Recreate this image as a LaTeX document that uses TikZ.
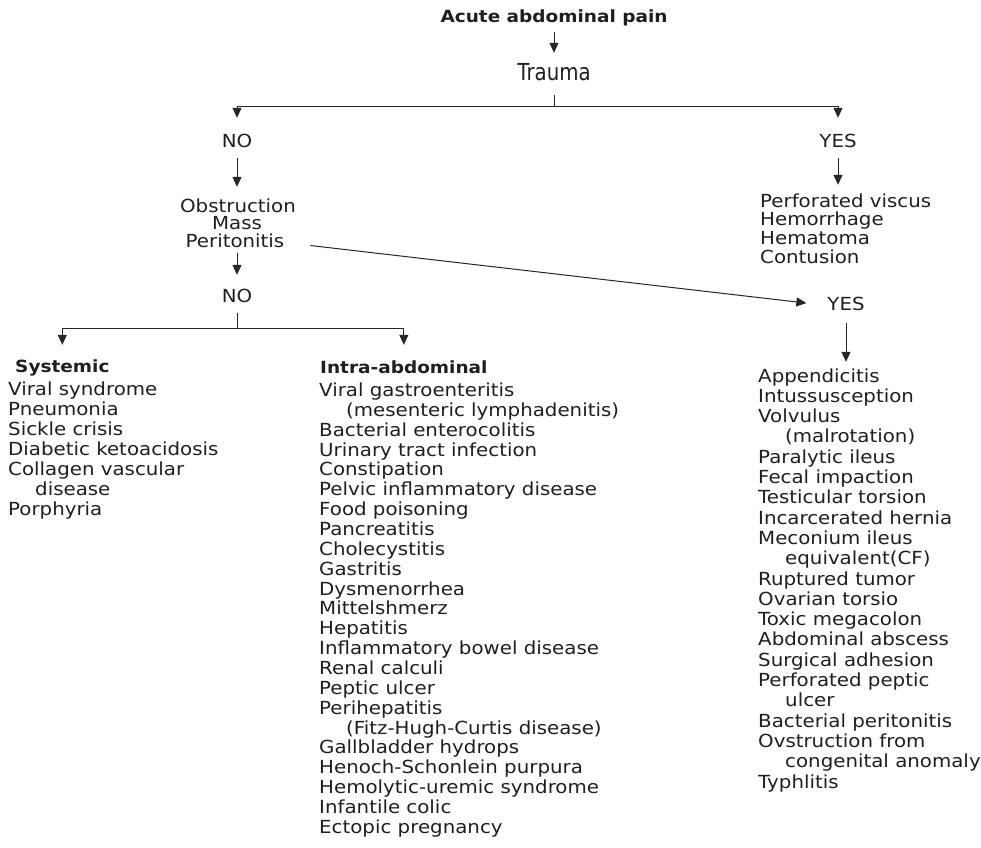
\documentclass[tikz,border=0pt]{standalone}
\usepackage{fontspec}
\setmainfont{DejaVu Sans}[FakeStretch=1.1]
\usetikzlibrary{arrows.meta}
\newcommand{\myind}{\hspace*{27pt}}
\tikzset{
  txt/.style={inner sep=0pt, text height=13pt, text depth=4pt, text=black!88, font=\fontsize{18}{20}\selectfont},
  hdr/.style={txt, font=\fontsize{16.8}{20}\selectfont\bfseries},
  item/.style={txt, anchor=base west},
  ctr/.style={txt, anchor=base},
  conn/.style={line width=1pt, draw=black!85},
  arr/.style={conn, -{Triangle[width=9pt,length=10pt]}}
}
\begin{document}
\begin{tikzpicture}[x=1pt,y=-1pt]
\useasboundingbox[fill=white] (0,0) rectangle (981,847);
% top
\node[hdr, anchor=base] (acute) at (554,22) {Acute abdominal pain};
\node[ctr, text height=17pt] (trauma) at (554,80) {\scalebox{1}[1.3]{Trauma}};
\draw[arr, shorten <=6pt, shorten >=10pt] (acute.south) -- (trauma.north);
\coordinate (tbar) at (554,106);
\node[ctr] (no1) at (237,147) {NO};
\node[ctr] (yes1) at (838,147) {YES};
\draw[conn, shorten <=11pt] (trauma.south) -- (tbar);
\draw[arr, shorten >=16pt] (tbar) -| (no1.north);
\draw[arr, shorten >=16pt] (tbar) -| (yes1.north);
% trauma yes list
\foreach \t [count=\i] in {Perforated viscus,Hemorrhage,Hematoma,Contusion}
  \node[item] (p\i) at (760,{207+18.7*(\i-1)}) {\t};
\draw[arr, shorten <=7pt, shorten >=9pt] (yes1.south) -- (yes1.south |- p1.north);
% obstruction
\node[ctr] (ob1) at (238,212) {Obstruction};
\node[ctr] (ob2) at (237,229.5) {Mass};
\node[ctr] (ob3) at (235,247) {Peritonitis};
\draw[arr, shorten <=7pt, shorten >=12pt] (no1.south) -- (no1.south |- ob1.north);
\node[ctr] (no2) at (237,302) {NO};
\draw[arr, shorten <=2pt, shorten >=14pt] (no2.north |- ob3.south) -- (no2.north);
\coordinate (nbar) at (237,328);
\draw[conn, shorten <=7pt] (no2.south) -- (nbar);
% systemic / intra
\node[hdr, anchor=base west] (sys) at (15,372) {Systemic};
\node[hdr, anchor=base west] (intra) at (320,373) {Intra-abdominal};
\draw[arr, shorten >=14pt] (nbar) -| (sys.north);
\draw[arr, shorten >=15pt] (nbar) -| (intra.north);
\foreach \t [count=\i] in {Viral syndrome,Pneumonia,Sickle crisis,Diabetic ketoacidosis,Collagen vascular,\myind disease,Porphyria}
  \node[item] (s\i) at (8,{395+20*(\i-1)}) {\t};
\foreach \t [count=\i] in {Viral gastroenteritis,\myind (mesenteric lymphadenitis),Bacterial enterocolitis,Urinary tract infection,Constipation,Pelvic inflammatory disease,Food poisoning,Pancreatitis,Cholecystitis,Gastritis,Dysmenorrhea,Mittelshmerz,Hepatitis,Inflammatory bowel disease,Renal calculi,Peptic ulcer,Perihepatitis,\myind (Fitz-Hugh-Curtis disease),Gallbladder hydrops,Henoch-Schonlein purpura,Hemolytic-uremic syndrome,Infantile colic,Ectopic pregnancy}
  \node[item] (ia\i) at (319,{396.5+19.86*(\i-1)}) {\t};
% obstruction yes
\node[ctr] (yes2) at (846,310) {YES};
\draw[arr, shorten <=26pt, shorten >=21pt] (ob3.east) -- (yes2.west);
\foreach \t [count=\i] in {Appendicitis,Intussusception,Volvulus,\myind (malrotation),Paralytic ileus,Fecal impaction,Testicular torsion,Incarcerated hernia,Meconium ileus,\myind equivalent(CF),Ruptured tumor,Ovarian torsio,Toxic megacolon,Abdominal abscess,Surgical adhesion,Perforated peptic,\myind ulcer,Bacterial peritonitis,Ovstruction from,\myind congenital anomaly,Typhlitis}
  \node[item] (r\i) at (758,{382+20.3*(\i-1)}) {\t};
\draw[arr, shorten <=9pt, shorten >=7pt] (yes2.south) -- (yes2.south |- r1.north);
\end{tikzpicture}
\end{document}
